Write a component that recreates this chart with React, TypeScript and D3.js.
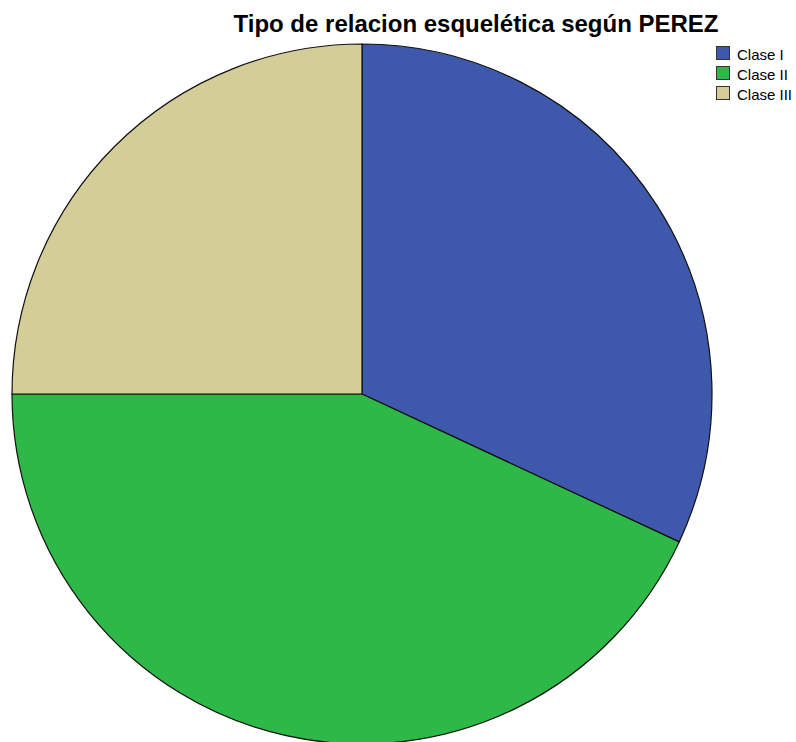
import * as d3 from 'd3';
import React, { useEffect, useRef } from 'react';

const categories = ['Clase I', 'Clase II', 'Clase III'];
const counts = [23, 31, 18];
const colors = ['#3e58ac', '#2eb848', '#d4cd98'];

function App() {
    const ref = useRef<SVGSVGElement>(null);

    useEffect(() => {
        const svg = d3.select(ref.current);
        svg.selectAll('*').remove();

        const width = 796;
        const height = 742;
        const cx = 362;
        const cy = 394;
        const radius = 350;

        svg.append('rect').attr('width', width).attr('height', height).attr('fill', '#fff');

        svg.append('text')
            .attr('x', 476)
            .attr('y', 32)
            .attr('text-anchor', 'middle')
            .style('font-family', 'Liberation Sans, Arial, sans-serif')
            .style('font-weight', 'bold')
            .style('font-size', '24px')
            .attr('fill', '#000')
            .text('Tipo de relacion esquelética según PEREZ');

        const pie = d3.pie<number>().sort(null).value(d => d);
        const arc = d3.arc<d3.PieArcDatum<number>>().innerRadius(0).outerRadius(radius);

        const color = d3.scaleOrdinal<string, string>().domain(categories).range(colors);

        const g = svg.append('g').attr('transform', `translate(${cx},${cy})`);
        g.selectAll('path')
            .data(pie(counts))
            .join('path')
            .attr('d', arc)
            .attr('fill', (d, i) => color(categories[i]))
            .attr('stroke', '#111')
            .attr('stroke-width', 1.2)
            .attr('stroke-linejoin', 'round');

        // legend, top right
        const legend = svg.append('g').attr('transform', 'translate(716,46)');
        const items = legend.selectAll('g')
            .data(categories)
            .join('g')
            .attr('transform', (d, i) => `translate(0,${i * 20})`);
        items.append('rect')
            .attr('x', 0.5)
            .attr('y', 0.5)
            .attr('width', 13)
            .attr('height', 13)
            .attr('fill', d => color(d))
            .attr('stroke', '#333')
            .attr('stroke-width', 1);
        items.append('text')
            .attr('x', 21)
            .attr('y', 14)
            .style('font-family', 'Liberation Sans, Arial, sans-serif')
            .style('font-size', '15px')
            .attr('fill', '#000')
            .text(d => d);
    }, []);

    return (
        <svg ref={ref} width={796} height={742} style={{ position: 'absolute', left: 0, top: 0 }}></svg>
    );
}

export default App;
